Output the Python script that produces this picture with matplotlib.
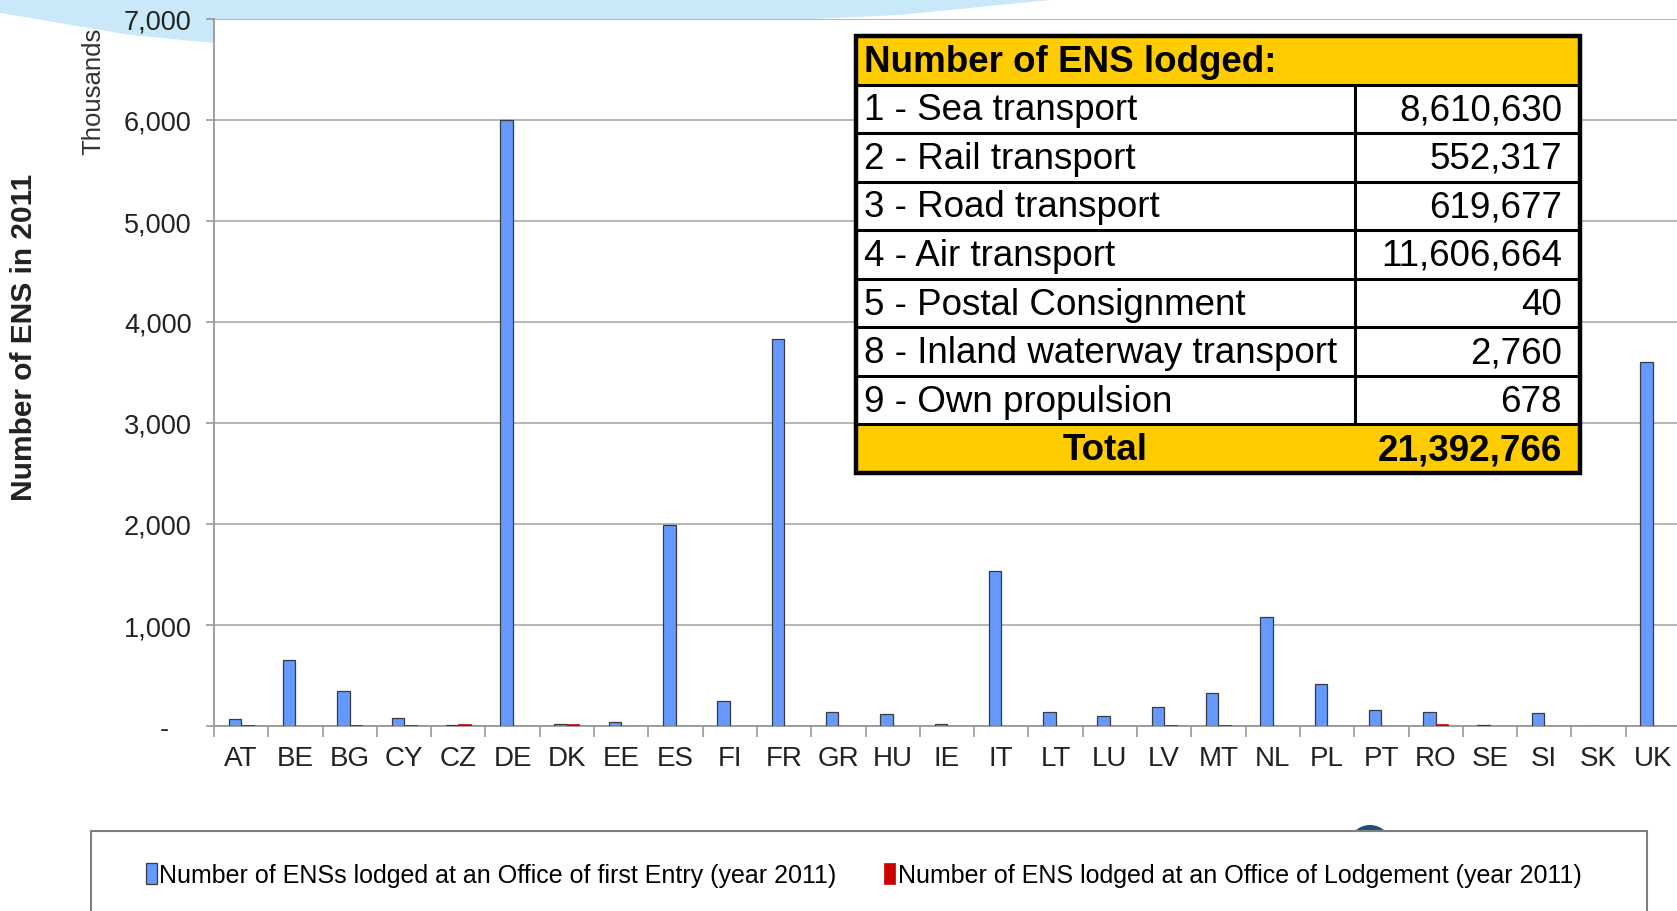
import matplotlib
matplotlib.use('Agg')
import matplotlib.pyplot as plt
from matplotlib.patches import Rectangle, Polygon, Circle
from matplotlib.font_manager import FontProperties
import numpy as np

# ---------------- data ----------------
countries = ['AT', 'BE', 'BG', 'CY', 'CZ', 'DE', 'DK', 'EE', 'ES', 'FI', 'FR', 'GR', 'HU', 'IE',
             'IT', 'LT', 'LU', 'LV', 'MT', 'NL', 'PL', 'PT', 'RO', 'SE', 'SI', 'SK', 'UK']
first_entry = [70, 650, 350, 75, 10, 6000, 20, 35, 1990, 245, 3835, 138, 117, 20,
               1536, 138, 95, 190, 330, 1080, 413, 160, 138, 5, 127, 4, 3600]
lodgement = [12, 0, 12, 12, 15, 0, 15, 0, 0, 0, 3, 0, 0, 0,
             0, 0, 0, 12, 10, 0, 0, 0, 15, 0, 0, 0, 0]
series_labels = ['Number of ENSs lodged at an Office of first Entry (year 2011)',
                 'Number of ENS lodged at an Office of Lodgement (year 2011)']
y_ticks = [0, 1000, 2000, 3000, 4000, 5000, 6000, 7000]

table_title = 'Number of ENS lodged:'
modes = ['1 - Sea transport', '2 - Rail transport', '3 - Road transport', '4 - Air transport',
         '5 - Postal Consignment', '8 - Inland waterway transport', '9 - Own propulsion']
mode_counts = [8610630, 552317, 619677, 11606664, 40, 2760, 678]
total_label = 'Total'

# ---------------- figure ----------------
plt.rcParams['font.family'] = ['Liberation Sans', 'DejaVu Sans']
W, H = 1677, 912
fig = plt.figure(figsize=(W / 100, H / 100), dpi=100)
fig.patch.set_facecolor('white')

# background decoration axes (pixel coordinates, y down)
bg = fig.add_axes([0, 0, 1, 1], zorder=0)
bg.set_xlim(0, W)
bg.set_ylim(H, 0)
bg.axis('off')
swoosh = Polygon([(0, 0), (1060, 0), (1000, 6), (900, 16), (600, 30), (214, 44),
                  (130, 36), (60, 24), (0, 14)], closed=True,
                 facecolor='#c9e8f8', edgecolor='none')
bg.add_patch(swoosh)
bg.add_patch(Circle((1370, 848), 22, facecolor='#1F4E79', edgecolor='none'))
bg.add_patch(Rectangle((91, 832), 1647 - 91, 120, facecolor='white',
                       edgecolor='#808080', linewidth=1.5))

# main axes
left, right, top, bottom = 214, 1680, 20, 727
ax = fig.add_axes([left / W, 1 - bottom / H, (right - left) / W, (bottom - top) / H], zorder=1)
ax.set_facecolor('white')
x = np.arange(len(countries))
bw = 0.23
b1 = ax.bar(x - bw / 2, first_entry, bw, color='#6699FF', edgecolor='#3a3a3a',
            linewidth=0.9, label=series_labels[0], zorder=3)
b2 = ax.bar(x + bw / 2, lodgement, bw, color='#CC0000', edgecolor='#CC0000',
            linewidth=0.5, label=series_labels[1], zorder=3)

ax.set_xlim(-0.5, len(countries) - 0.5)
ax.set_ylim(0, 7000)
ax.set_yticks(y_ticks)
ax.set_yticklabels(['-   ' if v == 0 else f'{v:,}' for v in y_ticks])
ax.yaxis.grid(True, color='#b0b0b0', linewidth=1.3)
ax.set_axisbelow(True)
for s in ['top', 'right']:
    ax.spines[s].set_visible(False)
for s in ['left', 'bottom']:
    ax.spines[s].set_color('#999999')
    ax.spines[s].set_linewidth(1.3)

ax.set_xticks(np.arange(len(countries) + 1) - 0.5)
ax.set_xticklabels([])
ax.set_xticks(x, minor=True)
ax.set_xticklabels(countries, minor=True)
ax.tick_params(axis='x', which='major', length=8, width=1.2, color='#999999', direction='out')
ax.tick_params(axis='x', which='minor', length=0, pad=14, labelsize=20, labelcolor='#222222')
ax.tick_params(axis='y', length=6, width=1.2, color='#999999', pad=10, labelsize=19.5,
               labelcolor='#222222')

fig.text(93 / W, 1 - 91 / H, 'Thousands', rotation=90, ha='center', va='center',
         fontsize=18.5, color='#333333')
fig.text(24 / W, 1 - 337 / H, 'Number of ENS in 2011', rotation=90, ha='center', va='center',
         fontsize=21.5, fontweight='bold', color='#222222')

# legend
leg_font = FontProperties(family=['Liberation Sans Narrow', 'Liberation Sans'], size=18)
fig.legend(handles=[b1, b2], labels=series_labels, loc='center left',
           bbox_to_anchor=(133 / W, 1 - 876 / H), ncol=2, frameon=False, borderpad=0,
           handlelength=0.45, handleheight=0.9, handletextpad=0.1, columnspacing=1.9,
           prop=leg_font)

# table
tx0, tx1, ty0, ty1 = 856, 1580, 37, 474
tab = fig.add_axes([tx0 / W, 1 - ty1 / H, (tx1 - tx0) / W, (ty1 - ty0) / H], zorder=5)
nrows = len(modes) + 2
tab.set_xlim(0, tx1 - tx0)
tab.set_ylim(nrows, 0)
tab.axis('off')
split = 1355 - tx0
tw = tx1 - tx0
yellow = '#FFCC00'
tab.add_patch(Rectangle((0, 0), tw, 1, facecolor=yellow, edgecolor='none'))
tab.add_patch(Rectangle((0, nrows - 1), tw, 1, facecolor=yellow, edgecolor='none'))
tab.add_patch(Rectangle((0, 1), tw, nrows - 2, facecolor='white', edgecolor='none'))
for r in range(1, nrows):
    tab.plot([0, tw], [r, r], color='black', linewidth=2.2, solid_capstyle='butt')
tab.plot([split, split], [1, nrows - 1], color='black', linewidth=2.2)
tab.add_patch(Rectangle((0, 0), tw, nrows, facecolor='none', edgecolor='black',
                        linewidth=3.2, clip_on=False))
fs = 26.5
tab.text(8, 0.52, table_title, ha='left', va='center', fontsize=fs, fontweight='bold')
for i, (m, c) in enumerate(zip(modes, mode_counts)):
    tab.text(8, i + 1.52, m, ha='left', va='center', fontsize=fs)
    tab.text(tw - 18, i + 1.52, f'{c:,}', ha='right', va='center', fontsize=fs)
tab.text(split / 2, nrows - 0.48, total_label, ha='center', va='center', fontsize=fs,
         fontweight='bold')
tab.text(tw - 18, nrows - 0.48, f'{sum(mode_counts):,}', ha='right', va='center', fontsize=fs,
         fontweight='bold')

fig.savefig('out.png', dpi=100)
